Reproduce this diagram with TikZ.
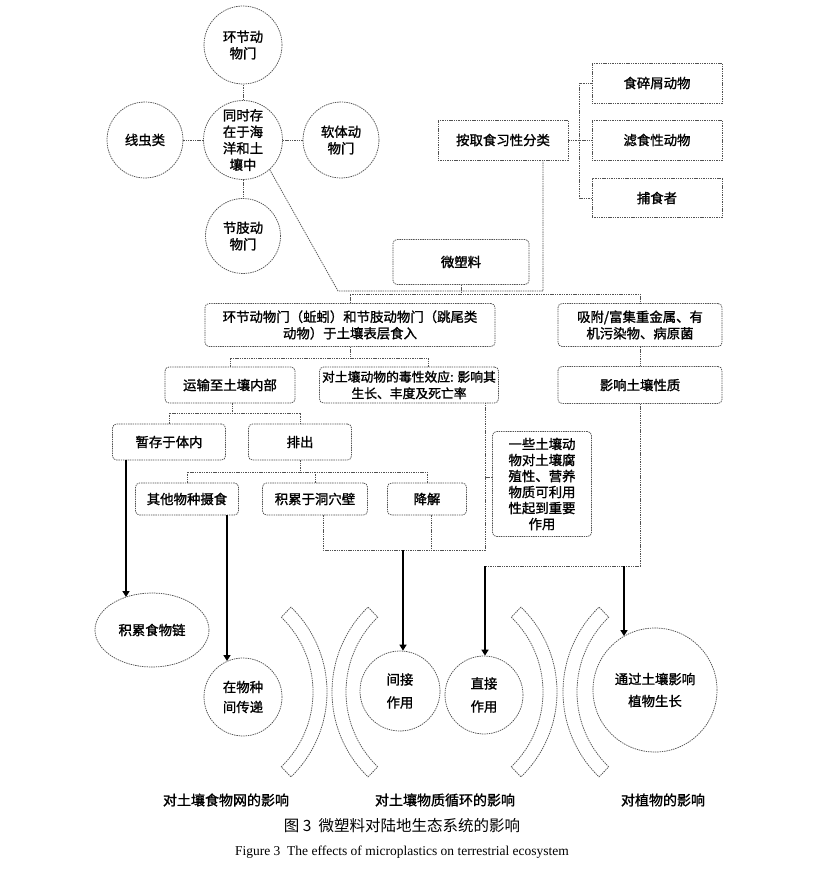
\documentclass[tikz,border=0pt]{standalone}
\usepackage{fontspec}
\setmainfont{Liberation Serif}
\newfontfamily\cjk{Noto Sans CJK SC}[FakeBold=1.3]
\newfontfamily\cjkr{Noto Sans CJK SC}
\usetikzlibrary{arrows.meta,calc,shapes.geometric}
\tikzset{
  dsh/.style={draw=black!68, line width=0.75pt, dash pattern=on 1.4pt off 0.9pt},
  cjkt/.style={font=\cjk\fontsize{13.4}{16.5}\selectfont},
  bx/.style={dsh, cjkt, rounded corners=4pt, align=center, inner sep=1pt},
  sqbx/.style={bx, rounded corners=0pt},
  circ/.style={dsh, cjkt, circle, align=center, inner sep=0pt},
  ln/.style={dsh},
  thk/.style={draw=black, line width=2.4pt, -{Triangle[length=6pt,width=7pt]}},
  lab/.style={font=\cjk\fontsize{14}{16}\selectfont},
}
\newcommand{\bandR}[2]{% ")" band, centre of curvature (#1,#2)
  \draw[dsh] ($(#1,#2)+(-46:104)$) arc[start angle=-46,end angle=46,radius=104]
    -- ($(#1,#2)+(46:118)$) arc[start angle=46,end angle=-46,radius=118] -- cycle;}
\newcommand{\bandL}[2]{% "(" band
  \draw[dsh] ($(#1,#2)+(134:104)$) arc[start angle=134,end angle=226,radius=104]
    -- ($(#1,#2)+(226:118)$) arc[start angle=226,end angle=134,radius=118] -- cycle;}
\begin{document}
\begin{tikzpicture}[x=1pt,y=-1pt]
\fill[white] (0,0) rectangle (836,870);
\path[use as bounding box] (0,0) rectangle (836,870);

% top cluster of circles
\node[circ, minimum size=78pt] (c1) at (243,45) {环节动\\物门};
\node[circ, minimum size=79pt] (c0) at (243,140) {同时存\\在于海\\洋和土\\壤中};
\node[circ, minimum size=76pt] (cL) at (145,140) {线虫类};
\node[circ, minimum size=76pt] (cR) at (341,140) {软体动\\物门};
\node[circ, minimum size=75pt] (cB) at (243,236) {节肢动\\物门};
\draw[ln] (c0) -- (c1);
\draw[ln] (c0) -- (cL);
\draw[ln] (c0) -- (cR);
\draw[ln] (c0) -- (cB);

% feeding classification
\node[sqbx, minimum width=130pt, minimum height=40pt] (bq) at (503,140) {按取食习性分类};
\node[sqbx, minimum width=130pt, minimum height=40pt] (r1) at (657,83) {食碎屑动物};
\node[sqbx, minimum width=130pt, minimum height=40pt] (r2) at (657,140) {滤食性动物};
\node[sqbx, minimum width=130pt, minimum height=39pt] (r3) at (657,198) {捕食者};
\draw[ln] (bq.east) -- (r2.west);
\draw[ln] (r1.west) -- ++(-12,0) |- (r3.west);

% microplastics
\node[bx, minimum width=136pt, minimum height=45pt] (wm) at (461,262) {微塑料};
\coordinate (j1) at (338,291);
\coordinate (j2) at (543,291);
\coordinate (j3) at (350,294);
\draw[ln] (c0.-48) -- (j1) -- (j2) -- (j2 |- bq.south);

% second level
\node[bx, minimum width=290pt, minimum height=43pt] (h1) at (350,325) {环节动物门（蚯蚓）和节肢动物门（跳尾类\\动物）于土壤表层食入};
\node[bx, minimum width=164pt, minimum height=43pt] (h2) at (640,325) {吸附/富集重金属、有\\机污染物、病原菌};
\draw[ln] (wm.south) -- (wm.south |- j3);
\draw[ln] (h1.north) -- (h1.north |- j3) -- (h2.north |- j3) -- (h2.north);

% third level
\node[bx, minimum width=130pt, minimum height=36pt] (t1) at (230,385) {运输至土壤内部};
\node[bx, minimum width=179pt, minimum height=36pt, font=\cjk\fontsize{12.8}{16.5}\selectfont] (t2) at (409,385) {对土壤动物的毒性效应: 影响其\\生长、丰度及死亡率};
\node[bx, minimum width=164pt, minimum height=37pt] (t3) at (640,385) {影响土壤性质};
\coordinate (k1) at (350,358);
\coordinate (t2in) at (428,367);
\draw[ln] (h1.south) -- (h1.south |- k1);
\draw[ln] (t1.north) -- (t1.north |- k1) -- (t2in |- k1) -- (t2in);
\draw[ln] (h2) -- (t3);

% fourth level
\node[bx, minimum width=113pt, minimum height=36pt] (s1) at (169,442) {暂存于体内};
\node[bx, minimum width=103pt, minimum height=36pt] (s2) at (300,442) {排出};
\coordinate (k2) at (232,413);
\draw[ln] (t1.south -| k2) -- (k2);
\draw[ln] (s1.north) -- (s1.north |- k2) -- (s2.north |- k2) -- (s2.north);

% fifth level
\node[bx, minimum width=103pt, minimum height=32pt] (u1) at (187,499) {其他物种摄食};
\node[bx, minimum width=105pt, minimum height=32pt] (u2) at (315,499) {积累于洞穴壁};
\node[bx, minimum width=79pt, minimum height=32pt] (u3) at (427,499) {降解};
\coordinate (k3) at (300,472);
\draw[ln] (s2.south) -- (k3);
\draw[ln] (u1.north) -- (u1.north |- k3) -- (u3.north |- k3) -- (u3.north);
\draw[ln] (u2.north |- k3) -- (u2.north);

% side note box
\node[bx, minimum width=99pt, minimum height=105pt, font=\cjk\fontsize{13.4}{16}\selectfont] (yx) at (542,484) {一些土壤动\\物对土壤腐\\殖性、营养\\物质可利用\\性起到重要\\作用};

% lower joining lines
\coordinate (m1) at (323,550);
\coordinate (m2) at (431,550);
\coordinate (m3) at (485,550);
\coordinate (m4) at (403,550);
\draw[ln] (m1 |- u2.south) -- (m1) -- (m3) -- (m3 |- t2.south);
\draw[ln] (m2 |- u3.south) -- (m2);
\draw[ln] ($(yx.west)+(0,-7)$) -- (m3 |- {$(yx.west)+(0,-7)$});
\coordinate (n1) at (485,566);
\coordinate (n2) at (624,566);
\draw[ln] (t3.south) -- (t3.south |- n1) -- (n1);

% lower targets
\node[dsh, ellipse, minimum width=114pt, minimum height=74pt, cjkt] (e1) at (152,630) {积累食物链};
\node[circ, minimum size=78pt, font=\cjk\fontsize{13.4}{20}\selectfont] (p1) at (243,697) {在物种\\间传递};
\node[circ, minimum size=80pt, font=\cjk\fontsize{13.4}{23}\selectfont] (p2) at (400,691) {间接\\作用};
\node[circ, minimum size=78pt, font=\cjk\fontsize{13.4}{23}\selectfont] (p3) at (484,695) {直接\\作用};
\node[circ, minimum size=124pt, font=\cjk\fontsize{13.4}{22}\selectfont] (p4) at (655,690) {通过土壤影响\\植物生长};

% thick arrows
\coordinate (a1) at (126,597);
\coordinate (a2) at (227,661);
\coordinate (a5) at (624,636);
\draw[thk] (s1.south -| a1) -- (a1);
\draw[thk] (u1.south -| a2) -- (a2);
\draw[thk] (m4) -- (p2.north -| m4);
\draw[thk] (n1) -- (p3.north -| n1);
\draw[thk] (n2) -- (a5);

% curved bands
\bandR{209}{692}
\bandL{450}{692}
\bandR{439}{692}
\bandL{681}{692}

% labels
\node[lab] (l1) at (226,800) {对土壤食物网的影响};
\node[lab] (l2) at (445,800) {对土壤物质循环的影响};
\node[lab] (l3) at (663,800) {对植物的影响};
\node[font=\cjkr\fontsize{15.5}{18}\selectfont] (cap1) at (402,826) {图 3\ \ 微塑料对陆地生态系统的影响};
\node[font=\fontsize{13.5}{16}\selectfont] (cap2) at (402,852) {Figure 3\ \ The effects of microplastics on terrestrial ecosystem};
\end{tikzpicture}
\end{document}
